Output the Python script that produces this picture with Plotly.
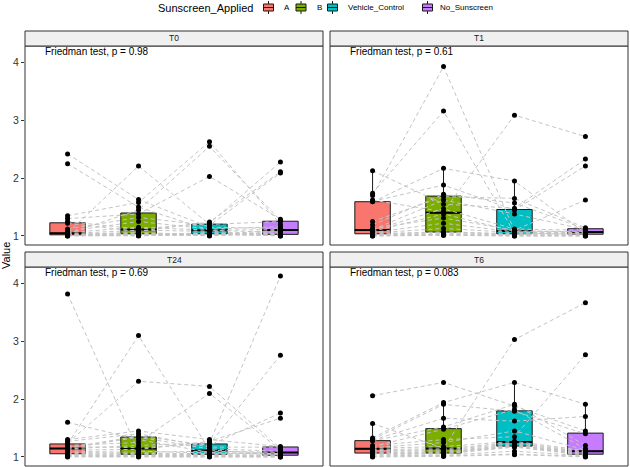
import numpy as np
import plotly.graph_objects as go

# ---------------- data ----------------
groups = ["A", "B", "Vehicle_Control", "No_Sunscreen"]
colors = ["#F8766D", "#7CAE00", "#00BFC4", "#C77CFF"]
panels = ["T0", "T1", "T24", "T6"]
p_values = ["0.98", "0.61", "0.69", "0.083"]

# each list: one value per subject (20 subjects, same order in every list)
T0_A = [2.42, 2.25, 1.05, 1.35, 1.04, 1.30, 1.25, 1.22, 1.12, 1.08, 1.06, 1.04, 1.03, 1.03, 1.02, 1.02, 1.01, 1.01, 1.00, 1.00]
T0_B = [1.63, 1.50, 2.21, 1.58, 1.45, 1.38, 1.12, 1.08, 1.32, 1.25, 1.15, 1.10, 1.06, 1.01, 1.05, 1.00, 1.04, 1.02, 1.03, 1.01]
T0_VC = [1.15, 1.10, 1.20, 2.63, 2.55, 2.03, 1.22, 1.24, 1.18, 1.12, 1.10, 1.08, 1.02, 1.06, 1.00, 1.05, 1.03, 1.01, 1.04, 1.02]
T0_NS = [1.13, 1.06, 1.25, 1.20, 1.27, 1.29, 2.28, 2.11, 2.09, 1.16, 1.11, 1.02, 1.10, 1.00, 1.08, 1.03, 1.01, 1.05, 1.00, 1.02]

T1_A = [1.70, 1.74, 1.62, 2.13, 1.60, 1.13, 1.59, 1.25, 1.19, 1.11, 1.10, 1.08, 1.06, 1.05, 1.04, 1.03, 1.02, 1.01, 1.00, 1.00]
T1_B = [3.93, 3.16, 1.42, 1.55, 1.88, 1.31, 2.17, 1.68, 1.72, 1.62, 1.47, 1.38, 1.22, 1.13, 1.07, 1.06, 1.04, 1.03, 1.02, 1.01]
T1_VC = [1.09, 1.05, 3.09, 1.48, 1.45, 1.10, 1.95, 1.65, 1.57, 1.38, 1.12, 1.08, 1.07, 1.06, 1.04, 1.03, 1.02, 1.01, 1.00, 1.00]
T1_NS = [1.07, 1.03, 2.72, 2.33, 2.21, 1.62, 1.05, 1.14, 1.12, 1.11, 1.10, 1.08, 1.07, 1.06, 1.04, 1.03, 1.02, 1.01, 1.00, 1.00]

T24_A = [3.82, 1.22, 1.24, 1.60, 1.20, 1.14, 1.18, 1.16, 1.12, 1.30, 1.27, 1.15, 1.10, 1.08, 1.06, 1.04, 1.03, 1.02, 1.01, 1.00]
T24_B = [1.10, 3.10, 2.31, 1.30, 1.25, 1.20, 1.16, 1.36, 1.13, 1.45, 1.40, 1.34, 1.08, 1.06, 1.05, 1.04, 1.03, 1.02, 1.01, 1.00]
T24_VC = [1.07, 1.12, 2.22, 1.08, 2.10, 1.24, 1.22, 1.20, 1.27, 1.30, 1.17, 1.14, 1.10, 1.06, 1.05, 1.04, 1.03, 1.02, 1.01, 1.00]
T24_NS = [1.06, 1.05, 1.15, 1.04, 1.12, 4.13, 2.76, 1.76, 1.67, 1.18, 1.17, 1.10, 1.08, 1.07, 1.03, 1.03, 1.02, 1.01, 1.00, 1.00]

T6_A = [2.06, 1.58, 1.20, 1.33, 1.30, 1.29, 1.28, 1.18, 1.16, 1.15, 1.13, 1.11, 1.10, 1.08, 1.07, 1.06, 1.04, 1.02, 1.01, 1.00]
T6_B = [2.29, 1.15, 1.30, 1.94, 1.91, 1.67, 1.52, 1.48, 1.25, 1.18, 1.14, 1.12, 1.10, 1.08, 1.07, 1.06, 1.05, 1.03, 1.02, 1.01]
T6_VC = [1.88, 3.03, 1.35, 2.29, 1.79, 1.62, 1.91, 1.82, 1.45, 1.27, 1.25, 1.23, 1.21, 1.20, 1.19, 1.18, 1.17, 1.10, 1.05, 1.04]
T6_NS = [1.45, 3.67, 2.77, 1.91, 1.40, 1.70, 1.20, 1.14, 1.12, 1.11, 1.09, 1.08, 1.07, 1.06, 1.05, 1.04, 1.03, 1.02, 1.01, 1.00]

data = {
    "T0": [T0_A, T0_B, T0_VC, T0_NS],
    "T1": [T1_A, T1_B, T1_VC, T1_NS],
    "T24": [T24_A, T24_B, T24_VC, T24_NS],
    "T6": [T6_A, T6_B, T6_VC, T6_NS],
}

# ---------------- layout helpers ----------------
W, H = 630, 467
FONT = "Liberation Sans, Arial, sans-serif"


def fx(p):
    return p / W


def fy(p):
    return 1 - p / H


# panel pixel boxes (left, right, top, bottom)
panel_px = {
    "T0": (25, 323, 46, 245),
    "T1": (330, 628, 46, 245),
    "T24": (25, 323, 267, 466),
    "T6": (330, 628, 267, 466),
}
STRIP_H = 15

allv = np.concatenate([np.array(v) for p in panels for v in data[p]])
vmin, vmax = allv.min(), allv.max()
pad = 0.05 * (vmax - vmin)
yrange = [vmin - pad, vmax + pad]
BOXW = 0.5

fig = go.Figure()
shapes = []
annotations = []
layout_axes = {}


def box_stats(vals):
    v = np.sort(np.array(vals, dtype=float))
    q1, med, q3 = np.percentile(v, [25, 50, 75])
    iqr = q3 - q1
    lo = v[v >= q1 - 1.5 * iqr].min()
    hi = v[v <= q3 + 1.5 * iqr].max()
    return q1, med, q3, lo, hi


for k, p in enumerate(panels):
    idx = "" if k == 0 else str(k + 1)
    xa, ya = "x" + idx, "y" + idx
    l, r, t, b = panel_px[p]
    left_col = l < 100

    layout_axes["xaxis" + idx] = dict(
        domain=[fx(l), fx(r)], range=[0.4, 4.6], anchor=ya,
        showgrid=False, zeroline=False, showticklabels=False, ticks="", showline=False,
    )
    layout_axes["yaxis" + idx] = dict(
        domain=[fy(b), fy(t)], range=yrange, anchor=xa,
        showgrid=False, zeroline=False, showline=False,
        tickvals=[1, 2, 3, 4],
        ticks="outside" if left_col else "", ticklen=3, tickcolor="#333333", tickwidth=1,
        showticklabels=left_col,
        tickfont=dict(family=FONT, size=10.5, color="#333333"),
    )

    series = data[p]
    xs = [1, 2, 3, 4]
    # boxes
    for gi, vals in enumerate(series):
        q1, med, q3, lo, hi = box_stats(vals)
        fig.add_trace(go.Box(
            x=[xs[gi]], q1=[q1], median=[med], q3=[q3], lowerfence=[lo], upperfence=[hi],
            width=BOXW, whiskerwidth=0, boxpoints=False,
            fillcolor=colors[gi], line=dict(color="#1a1a1a", width=1),
            xaxis=xa, yaxis=ya, showlegend=False, hoverinfo="skip",
        ))
        fig.add_trace(go.Scatter(
            x=[xs[gi] - BOXW / 2, xs[gi] + BOXW / 2], y=[med, med], mode="lines",
            line=dict(color="#000000", width=2), xaxis=xa, yaxis=ya,
            showlegend=False, hoverinfo="skip",
        ))
    # subject lines
    n = len(series[0])
    for s in range(n):
        fig.add_trace(go.Scatter(
            x=xs, y=[series[g][s] for g in range(4)], mode="lines",
            line=dict(color="#C4C4C4", width=1, dash="4px,3px"),
            xaxis=xa, yaxis=ya, showlegend=False, hoverinfo="skip",
        ))
    # points
    for gi, vals in enumerate(series):
        fig.add_trace(go.Scatter(
            x=[xs[gi]] * len(vals), y=vals, mode="markers",
            marker=dict(color="black", size=5),
            xaxis=xa, yaxis=ya, showlegend=False, hoverinfo="skip",
        ))

    # panel border
    shapes.append(dict(type="rect", xref="paper", yref="paper",
                       x0=fx(l), x1=fx(r), y0=fy(b), y1=fy(t),
                       line=dict(color="#333333", width=1), fillcolor="rgba(0,0,0,0)", layer="above"))
    # strip
    shapes.append(dict(type="rect", xref="paper", yref="paper",
                       x0=fx(l), x1=fx(r), y0=fy(t), y1=fy(t - STRIP_H),
                       line=dict(color="#333333", width=1), fillcolor="#F0F0F0", layer="above"))
    annotations.append(dict(xref="paper", yref="paper", x=fx((l + r) / 2), y=fy(t - STRIP_H / 2),
                            text=p, showarrow=False, xanchor="center", yanchor="middle",
                            font=dict(family=FONT, size=8.5, color="#1A1A1A")))
    # test label
    annotations.append(dict(xref=xa, yref=ya, x=0.66, y=4.19,
                            text="Friedman test, p = " + p_values[k], showarrow=False,
                            xanchor="left", yanchor="middle",
                            font=dict(family=FONT, size=10, color="black")))

# y axis title
annotations.append(dict(xref="paper", yref="paper", x=fx(6), y=fy(256), text="Value",
                        textangle=-90, showarrow=False, xanchor="center", yanchor="middle",
                        font=dict(family=FONT, size=11, color="black")))

# legend (drawn as keys + labels)
LEG_Y = 7.5
annotations.append(dict(xref="paper", yref="paper", x=fx(156), y=fy(LEG_Y), text="Sunscreen_Applied",
                        showarrow=False, xanchor="left", yanchor="middle",
                        font=dict(family=FONT, size=11, color="black")))
key_cx = [268.5, 301, 332.5, 427.5]
label_x = [282, 314.5, 346, 437.5]
for gi, g in enumerate(groups):
    cx = key_cx[gi]
    shapes.append(dict(type="line", xref="paper", yref="paper", x0=fx(cx), x1=fx(cx),
                       y0=fy(LEG_Y - 6.5), y1=fy(LEG_Y + 6.5), line=dict(color="#1a1a1a", width=1)))
    shapes.append(dict(type="rect", xref="paper", yref="paper", x0=fx(cx - 5), x1=fx(cx + 5),
                       y0=fy(LEG_Y + 3.5), y1=fy(LEG_Y - 3.5), fillcolor=colors[gi],
                       line=dict(color="#1a1a1a", width=1)))
    shapes.append(dict(type="line", xref="paper", yref="paper", x0=fx(cx - 5), x1=fx(cx + 5),
                       y0=fy(LEG_Y), y1=fy(LEG_Y), line=dict(color="#1a1a1a", width=1)))
    annotations.append(dict(xref="paper", yref="paper", x=fx(label_x[gi]), y=fy(LEG_Y), text=g,
                            showarrow=False, xanchor="left", yanchor="middle",
                            font=dict(family=FONT, size=8, color="black")))

fig.update_layout(
    width=W, height=H, margin=dict(l=0, r=0, t=0, b=0),
    paper_bgcolor="white", plot_bgcolor="white",
    showlegend=False, shapes=shapes, annotations=annotations,
    font=dict(family=FONT),
    **layout_axes,
)

fig.write_html("out.html")
